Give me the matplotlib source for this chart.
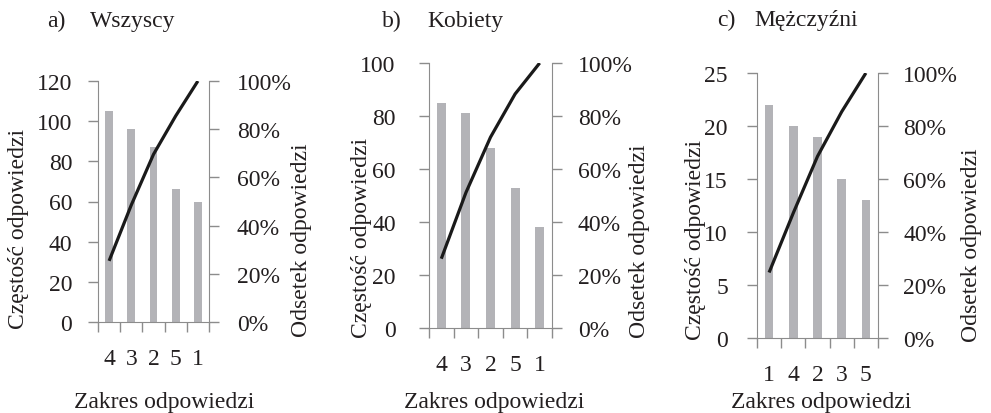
import matplotlib.pyplot as plt
import numpy as np

plt.rcParams['font.family'] = ['Liberation Serif', 'DejaVu Serif']
plt.rcParams['font.size'] = 17

# dane
titles = ['Wszyscy', 'Kobiety', 'Mężczyźni']
letters = ['a)', 'b)', 'c)']
cats_a = ['4', '3', '2', '5', '1']
vals_a = [105, 96, 87, 66, 60]
cats_b = ['4', '3', '2', '5', '1']
vals_b = [85, 81, 68, 53, 38]
cats_c = ['1', '4', '2', '3', '5']
vals_c = [22, 20, 19, 15, 13]
ylims = [120, 100, 25]
ysteps = [20, 20, 5]

W, H = 991, 414
fig = plt.figure(figsize=(W / 100, H / 100), dpi=100)

# polozenie osi w pikselach: lewa, prawa, gora, dol
boxes = [(98, 209, 82, 323), (429, 552, 64, 329), (757, 878, 74, 339)]
title_pos = [(47, 90, 27), (382, 427, 27), (717, 754, 26)]
xlab_pos = [164, 494, 821]
ylab_left = [(19, 229), (362, 238), (695, 240)]
ylab_right = [(302, 240), (639, 241), (972, 245)]
lpad = [11.5, 17, 14]
rpad = [13, 11.5, 11]

grey = '#8c8c8c'
barc = '#b3b3b7'
txt = '#231f20'

data = [(cats_a, vals_a), (cats_b, vals_b), (cats_c, vals_c)]

for i, (cats, vals) in enumerate(data):
    l, r, t, b = boxes[i]
    ax = fig.add_axes([l / W, 1 - b / H, (r - l) / W, (b - t) / H])
    ax2 = ax.twinx()
    x = np.arange(len(cats))
    ax.bar(x, vals, width=0.36, color=barc, zorder=1)
    cum = np.cumsum(vals) / np.sum(vals) * 100
    ax2.plot(x, cum, color='#1a1a1a', lw=2.3, solid_capstyle='butt')

    ax.set_xlim(-0.5, len(cats) - 0.5)
    ax.set_ylim(0, ylims[i])
    ax.set_yticks(np.arange(0, ylims[i] + 1, ysteps[i]))
    ax2.set_ylim(0, 100)
    ax2.set_yticks(np.arange(0, 101, 20))
    ax2.set_yticklabels([f'{v}%' for v in range(0, 101, 20)])

    ax.set_xticks(np.arange(-0.5, len(cats), 1))
    ax.set_xticklabels([])
    ax.set_xticks(x, minor=True)
    ax.set_xticklabels(cats, minor=True)
    ax.tick_params(axis='x', which='major', length=7, width=1, color=grey, direction='out')
    ax.tick_params(axis='x', which='minor', length=0, pad=19, labelcolor=txt)
    ax.tick_params(axis='y', length=7, width=1, color=grey, pad=lpad[i], labelcolor=txt)
    ax2.tick_params(axis='y', length=7, width=1, color=grey, pad=rpad[i], labelcolor=txt)

    for s in ['top', 'right']:
        ax.spines[s].set_visible(False)
    for s in ['top', 'left', 'bottom']:
        ax2.spines[s].set_visible(False)
    ax.spines['left'].set_color(grey)
    ax.spines['bottom'].set_color(grey)
    ax2.spines['right'].set_color(grey)

    lx, nx, ty = title_pos[i]
    fig.text(lx / W, 1 - ty / H, letters[i], va='baseline', ha='left', color=txt)
    fig.text(nx / W, 1 - ty / H, titles[i], va='baseline', ha='left', color=txt)
    fig.text(xlab_pos[i] / W, 1 - 408 / H, 'Zakres odpowiedzi', va='baseline', ha='center', color=txt)
    fig.text(ylab_left[i][0] / W, 1 - ylab_left[i][1] / H, 'Częstość odpowiedzi',
             rotation=90, va='center', ha='center', color=txt)
    fig.text(ylab_right[i][0] / W, 1 - ylab_right[i][1] / H, 'Odsetek odpowiedzi',
             rotation=90, va='center', ha='center', color=txt)

fig.savefig('out.png', dpi=100)
